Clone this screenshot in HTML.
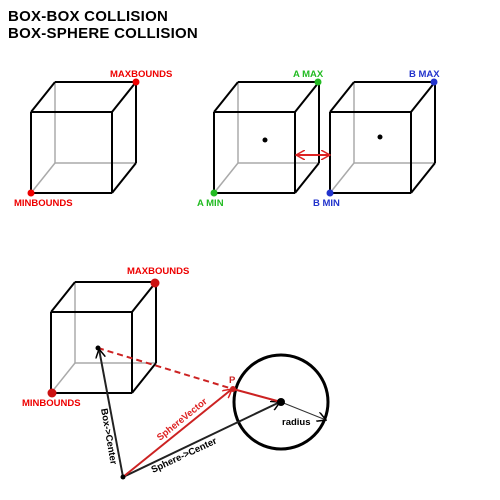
<!DOCTYPE html>
<html><head><style>body{margin:0;background:#fff}svg{display:block}text{font-family:"Liberation Sans",sans-serif;font-weight:bold}</style></head>
<body>
<svg width="500" height="500" viewBox="0 0 500 500">
<defs>
<marker id="ak" markerWidth="10" markerHeight="10" refX="9" refY="5" orient="auto" markerUnits="userSpaceOnUse"><path d="M0,0 L9,5 L0,10" fill="none" stroke="#000" stroke-width="1.5"/></marker>
<marker id="ar" markerWidth="10" markerHeight="10" refX="9" refY="5" orient="auto-start-reverse" markerUnits="userSpaceOnUse"><path d="M0,0 L9,5 L0,10" fill="none" stroke="#d22" stroke-width="1.5"/></marker>
</defs>
<text x="8" y="21" font-size="15" letter-spacing="0.25">BOX-BOX COLLISION</text>
<text x="8" y="38" font-size="15" letter-spacing="0.25">BOX-SPHERE COLLISION</text>
<g id="cubes"></g>
<line x1="296" y1="155" x2="330" y2="155" stroke="#d22" stroke-width="2" marker-start="url(#ar)" marker-end="url(#ar)"/>
<circle cx="265" cy="140" r="2.5" fill="#000"/>
<circle cx="380" cy="137" r="2.5" fill="#000"/>
<circle cx="136" cy="82" r="3.5" fill="#e00"/>
<circle cx="31" cy="193" r="3.5" fill="#e00"/>
<circle cx="318" cy="82" r="3.5" fill="#2b2"/>
<circle cx="214" cy="193" r="3.5" fill="#2b2"/>
<circle cx="434" cy="82" r="3.5" fill="#23c"/>
<circle cx="330" cy="193" r="3.5" fill="#23c"/>
<text x="110" y="77" font-size="9.5" fill="#e00">MAXBOUNDS</text>
<text x="14" y="206" font-size="9.5" fill="#e00">MINBOUNDS</text>
<text x="293" y="77" font-size="9.5" fill="#2b2">A MAX</text>
<text x="197" y="206" font-size="9.5" fill="#2b2">A MIN</text>
<text x="409" y="77" font-size="9.5" fill="#23c">B MAX</text>
<text x="313" y="206" font-size="9.5" fill="#23c">B MIN</text>
<line x1="98" y1="348" x2="233" y2="389" stroke="#c22" stroke-width="2" stroke-dasharray="6,4"/>
<circle cx="281" cy="402" r="47" fill="none" stroke="#000" stroke-width="3"/>
<line x1="123" y1="477" x2="99" y2="349" stroke="#222" stroke-width="2" marker-end="url(#ak)"/>
<line x1="123" y1="477" x2="280" y2="402" stroke="#222" stroke-width="2" marker-end="url(#ak)"/>
<line x1="123" y1="477" x2="232" y2="389" stroke="#c22" stroke-width="2" marker-end="url(#ar)"/>
<line x1="281" y1="402" x2="233" y2="389" stroke="#c22" stroke-width="2"/>
<line x1="281" y1="402" x2="326" y2="420" stroke="#333" stroke-width="1" marker-end="url(#ak)"/>
<circle cx="281" cy="402" r="4" fill="#000"/>
<circle cx="233" cy="389" r="3" fill="#c22"/>
<circle cx="123" cy="477" r="2.5" fill="#000"/>
<circle cx="98" cy="348" r="2.5" fill="#000"/>
<circle cx="155" cy="283" r="4.5" fill="#c11"/>
<circle cx="52" cy="393" r="4.5" fill="#c11"/>
<text x="127" y="274" font-size="9.5" fill="#e00">MAXBOUNDS</text>
<text x="22" y="406" font-size="9.5" fill="#e00">MINBOUNDS</text>
<text x="229" y="383" font-size="9.5" fill="#c22">P</text>
<text x="282" y="425" font-size="9.5" fill="#000">radius</text>
<text transform="translate(101,409) rotate(80)" font-size="9.5">Box-&gt;Center</text>
<text transform="translate(160,441) rotate(-39)" font-size="9.5" fill="#d22">SphereVector</text>
<text transform="translate(153,473) rotate(-25)" font-size="9.5">Sphere-&gt;Center</text>
</svg>
<script>
const cubeX=[31,214,330,51];
const cubeY=[112,112,112,312];
const names=['cube-top-left','cube-a','cube-b','cube-bottom'];
const g=document.getElementById('cubes');
const NS='http://www.w3.org/2000/svg';
function ln(x1,y1,x2,y2,c,w,p){const l=document.createElementNS(NS,'line');l.setAttribute('x1',x1);l.setAttribute('y1',y1);l.setAttribute('x2',x2);l.setAttribute('y2',y2);l.setAttribute('stroke',c);l.setAttribute('stroke-width',w);p.appendChild(l);}
cubeX.forEach((x,i)=>{const y=cubeY[i],s=81,dx=24,dy=-30;
const c=document.createElementNS(NS,'g');


g.appendChild(c);
ln(x+dx,y+dy,x+dx,y+dy+s,'#aaa',1.5,c);ln(x+dx,y+dy+s,x+dx+s,y+dy+s,'#aaa',1.5,c);ln(x,y+s,x+dx,y+dy+s,'#aaa',1.5,c);
const k='#000';
ln(x,y,x+s,y,k,2,c);ln(x,y+s,x+s,y+s,k,2,c);ln(x,y,x,y+s,k,2,c);ln(x+s,y,x+s,y+s,k,2,c);
ln(x+dx,y+dy,x+dx+s,y+dy,k,2,c);ln(x+dx+s,y+dy,x+dx+s,y+dy+s,k,2,c);
ln(x,y,x+dx,y+dy,k,2,c);ln(x+s,y,x+s+dx,y+dy,k,2,c);ln(x+s,y+s,x+s+dx,y+s+dy,k,2,c);
});
</script>
</body></html>
